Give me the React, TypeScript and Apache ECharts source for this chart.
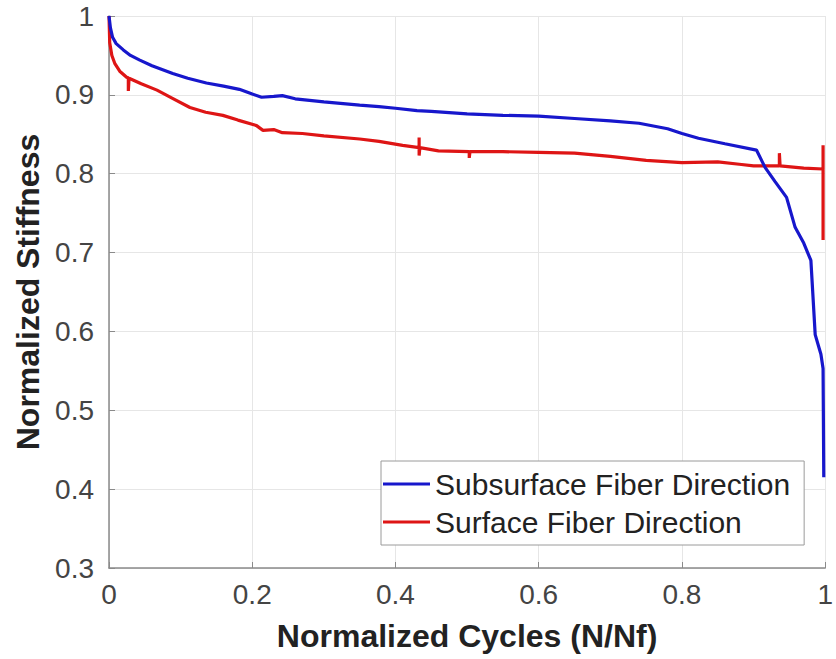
import React, { useEffect, useRef } from "react";
import * as echarts from "echarts";

const xTicks = [0, 0.2, 0.4, 0.6, 0.8, 1];
const yTicks = [0.3, 0.4, 0.5, 0.6, 0.7, 0.8, 0.9, 1];

const subsurfaceX = [
  0, 0.002, 0.005, 0.01, 0.02, 0.03, 0.043, 0.06, 0.089, 0.11, 0.136, 0.16,
  0.182, 0.2, 0.213, 0.23, 0.242, 0.26, 0.3, 0.35, 0.377, 0.4, 0.43, 0.45,
  0.5, 0.55, 0.6, 0.65, 0.7, 0.74, 0.78, 0.8, 0.823, 0.86, 0.904, 0.916,
  0.93, 0.946, 0.958, 0.97, 0.98, 0.986, 0.994, 0.997, 0.998,
];
const subsurfaceY = [
  1.0, 0.985, 0.973, 0.965, 0.957, 0.95, 0.944, 0.937, 0.927, 0.921, 0.915,
  0.911, 0.907, 0.901, 0.897, 0.898, 0.899, 0.895, 0.891, 0.887, 0.885, 0.883,
  0.88, 0.879, 0.876, 0.874, 0.873, 0.87, 0.867, 0.864, 0.857, 0.851, 0.845,
  0.838, 0.83, 0.808, 0.79, 0.77, 0.732, 0.712, 0.69, 0.596, 0.571, 0.553,
  0.415,
];

const surfaceX = [
  0, 0.001, 0.004, 0.008, 0.015, 0.025, 0.027, 0.027, 0.028, 0.045, 0.067,
  0.09, 0.113, 0.135, 0.159, 0.18, 0.206, 0.215, 0.23, 0.242, 0.27, 0.3, 0.35,
  0.377, 0.41, 0.433, 0.433, 0.433, 0.434, 0.46, 0.503, 0.503, 0.504, 0.55,
  0.6, 0.65, 0.7, 0.75, 0.8, 0.85, 0.88, 0.9, 0.936, 0.936, 0.937, 0.97,
  0.997, 0.997, 0.997,
];
const surfaceY = [
  1.0, 0.966, 0.95, 0.94, 0.93, 0.922, 0.922, 0.905, 0.921, 0.914, 0.906,
  0.895, 0.884, 0.878, 0.874, 0.868, 0.861, 0.855, 0.856, 0.852, 0.851, 0.848,
  0.844, 0.841, 0.836, 0.833, 0.846, 0.823, 0.833, 0.829, 0.828, 0.82, 0.828,
  0.828, 0.827, 0.826, 0.822, 0.817, 0.814, 0.815, 0.812, 0.81, 0.81, 0.826,
  0.81, 0.807, 0.806, 0.836, 0.716,
];

const zip = (xs: number[], ys: number[]) => xs.map((x, i) => [x, ys[i]]);

export default function App() {
  const ref = useRef<HTMLDivElement>(null);
  useEffect(() => {
    document.body.style.margin = "0";
    if (!ref.current) return;
    const chart = echarts.init(ref.current, undefined, { renderer: "svg" });
    const font = "'Liberation Sans', Arial, sans-serif";
    const blue = "#1717cc";
    const red = "#de1515";
    chart.setOption({
      animation: false,
      backgroundColor: "#ffffff",
      grid: { left: 109, right: 9, top: 16, bottom: 91, containLabel: false },
      legend: {
        left: 381,
        top: 461,
        orient: "vertical",
        icon: "rect",
        itemWidth: 47,
        itemHeight: 3,
        itemGap: 8,
        padding: [8, 14, 8, 2],
        borderColor: "#9a9a9a",
        borderWidth: 1,
        borderRadius: 0,
        backgroundColor: "#ffffff",
        textStyle: { fontFamily: font, fontSize: 30, lineHeight: 30, color: "#222" },
        data: [
          { name: "Subsurface Fiber Direction", itemStyle: { color: blue } },
          { name: "Surface Fiber Direction", itemStyle: { color: red } },
        ],
      },
      xAxis: {
        type: "value",
        min: xTicks[0],
        max: xTicks[xTicks.length - 1],
        interval: 0.2,
        name: "Normalized Cycles (N/Nf)",
        nameLocation: "middle",
        nameGap: 52,
        nameTextStyle: { fontFamily: font, fontSize: 32, fontWeight: "bold", color: "#222" },
        axisLine: { show: true, lineStyle: { color: "#8a8a8a", width: 1.5 } },
        axisTick: { show: true, inside: true, length: 6, lineStyle: { color: "#8a8a8a" } },
        axisLabel: {
          fontFamily: font,
          fontSize: 28,
          color: "#444",
          margin: 12,
          formatter: (v: number) => String(Math.round(v * 10) / 10),
        },
        splitLine: { show: true, lineStyle: { color: "#e6e6e6", width: 1 } },
      },
      yAxis: {
        type: "value",
        min: yTicks[0],
        max: yTicks[yTicks.length - 1],
        interval: 0.1,
        name: "Normalized Stiffness",
        nameLocation: "middle",
        nameGap: 63,
        nameTextStyle: { fontFamily: font, fontSize: 32, fontWeight: "bold", color: "#222" },
        axisLine: { show: true, lineStyle: { color: "#8a8a8a", width: 1.5 } },
        axisTick: { show: true, inside: true, length: 6, lineStyle: { color: "#8a8a8a" } },
        axisLabel: {
          fontFamily: font,
          fontSize: 28,
          color: "#444",
          margin: 15,
          formatter: (v: number) => String(Math.round(v * 10) / 10),
        },
        splitLine: { show: true, lineStyle: { color: "#e6e6e6", width: 1 } },
      },
      series: [
        {
          name: "Subsurface Fiber Direction",
          type: "line",
          data: zip(subsurfaceX, subsurfaceY),
          showSymbol: false,
          symbol: "none",
          lineStyle: { color: blue, width: 3.2 },
          itemStyle: { color: blue },
          z: 3,
        },
        {
          name: "Surface Fiber Direction",
          type: "line",
          data: zip(surfaceX, surfaceY),
          showSymbol: false,
          symbol: "none",
          lineStyle: { color: red, width: 3.2 },
          itemStyle: { color: red },
          z: 2,
        },
      ],
    });
    return () => chart.dispose();
  }, []);
  return <div ref={ref} style={{ width: 836, height: 659 }} />;
}
